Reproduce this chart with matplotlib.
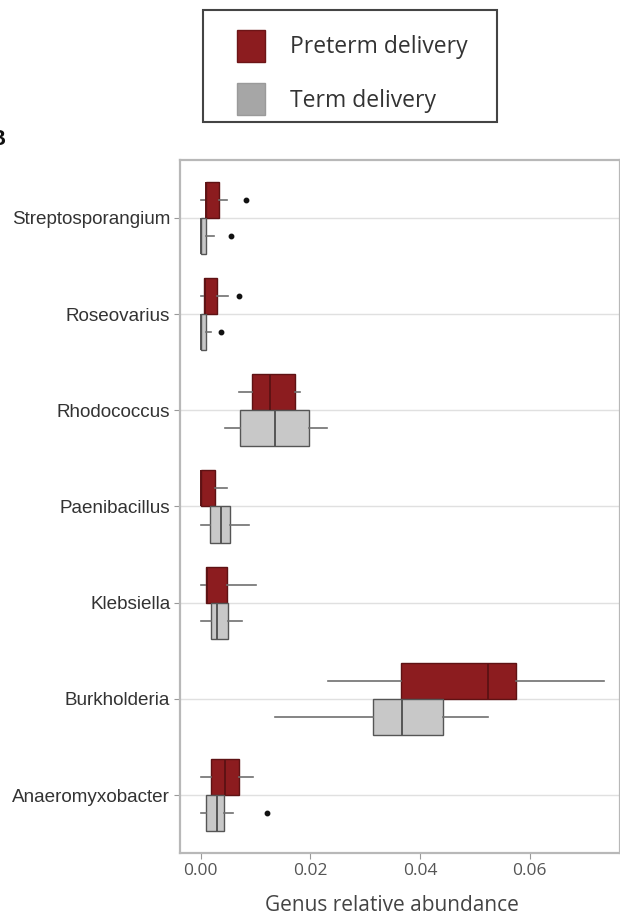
import matplotlib.pyplot as plt
from matplotlib.patches import Patch, Rectangle

# genera, listed top to bottom
genera = ["Streptosporangium", "Roseovarius", "Rhodococcus", "Paenibacillus",
          "Klebsiella", "Burkholderia", "Anaeromyxobacter"]

# box summaries (relative abundance) per genus, same order as above
pre_lo = [0.0000, 0.0000, 0.0070, 0.0000, 0.0000, 0.0233, 0.0000]
pre_q1 = [0.0009, 0.0006, 0.0094, 0.0000, 0.0010, 0.0365, 0.0019]
pre_med = [0.0010, 0.0007, 0.0127, 0.0001, 0.0012, 0.0524, 0.0044]
pre_q3 = [0.0033, 0.0030, 0.0171, 0.0025, 0.0048, 0.0575, 0.0070]
pre_hi = [0.0048, 0.0050, 0.0181, 0.0048, 0.0100, 0.0735, 0.0096]
pre_out = [[0.0083], [0.0069], [], [], [], [], []]

term_lo = [0.0000, 0.0000, 0.0044, 0.0000, 0.0000, 0.0135, 0.0000]
term_q1 = [0.0000, 0.0000, 0.0071, 0.0016, 0.0019, 0.0315, 0.0009]
term_med = [0.0000, 0.0000, 0.0135, 0.0036, 0.0029, 0.0367, 0.0029]
term_q3 = [0.0010, 0.0010, 0.0198, 0.0054, 0.0050, 0.0442, 0.0042]
term_hi = [0.0024, 0.0019, 0.0230, 0.0088, 0.0076, 0.0524, 0.0059]
term_out = [[0.0056], [0.0036], [], [], [], [], [0.0121]]

xticks = [0.00, 0.02, 0.04, 0.06]

RED = "#8c1c1f"
RED_EDGE = "#5e1214"
GREY = "#c8c8c8"
GREY_EDGE = "#555555"


def stats(lo, q1, med, q3, hi, out):
    return [dict(whislo=a, q1=b, med=c, q3=d, whishi=e, fliers=f)
            for a, b, c, d, e, f in zip(lo, q1, med, q3, hi, out)]


fig = plt.figure(figsize=(6.2, 9.15), dpi=100)
ax = fig.add_axes([0.2903, 0.0678, 0.7097, 0.7573])

n = len(genera)
ypos = [n - i for i in range(n)]
half = 0.1875

for st, off, fc, ec in [
    (stats(pre_lo, pre_q1, pre_med, pre_q3, pre_hi, pre_out), half, RED, RED_EDGE),
    (stats(term_lo, term_q1, term_med, term_q3, term_hi, term_out), -half, GREY, GREY_EDGE),
]:
    ax.bxp(st, positions=[y + off for y in ypos], widths=0.375, vert=False,
           patch_artist=True, showcaps=False, manage_ticks=False,
           boxprops=dict(facecolor=fc, edgecolor=ec, linewidth=1.0),
           medianprops=dict(color=ec, linewidth=1.4),
           whiskerprops=dict(color="#707070", linewidth=1.2),
           flierprops=dict(marker="o", markersize=3.2, markerfacecolor="#111111",
                           markeredgecolor="#111111"),
           zorder=3)

ax.set_xlim(-0.0038, 0.0765)
ax.set_ylim(0.4, n + 0.6)
ax.set_yticks(ypos)
ax.set_yticklabels(genera, fontsize=13.6, family="Liberation Sans", color="#333333")
ax.set_xticks(xticks)
ax.set_xticklabels([f"{v:.2f}" for v in xticks], fontsize=12.5,
                   family="Open Sans", color="#555555")
ax.tick_params(axis="both", length=4, color="#999999", width=0.8)
ax.tick_params(axis="y", pad=3)
ax.set_xlabel("Genus relative abundance", fontsize=15, family="Open Sans",
              color="#444444")
ax.xaxis.set_label_coords(0.482, -0.06)

for y in ypos:
    ax.axhline(y, color="#e0e0e0", linewidth=1.0, zorder=1)
for side in ax.spines.values():
    side.set_color("#b8b8b8")
    side.set_linewidth(1.6)

# legend entries, with a hand-placed frame around them
handles = [Patch(facecolor=RED, edgecolor="#6d1517", label="Preterm delivery"),
           Patch(facecolor="#a6a6a6", edgecolor="#9a9a9a", label="Term delivery")]
leg = fig.legend(handles=handles, loc="center", bbox_to_anchor=(0.568, 0.9208),
                 frameon=False, prop=dict(family="Open Sans", size=16.5),
                 handlelength=1.22, handleheight=1.75, handletextpad=1.1,
                 labelspacing=0.95, borderpad=0.0)
for t in leg.get_texts():
    t.set_color("#333333")
fig.patches.append(Rectangle((203 / 620, 1 - 122 / 915), 294 / 620, 112 / 915,
                             transform=fig.transFigure, facecolor="none",
                             edgecolor="#444444", linewidth=1.5))

# panel letter, mostly cut off at the left edge
fig.text(-0.017, 0.848, "B", fontsize=16, fontweight="bold", family="Liberation Sans",
         color="#111111", va="center")

fig.savefig("out.png", dpi=100)
